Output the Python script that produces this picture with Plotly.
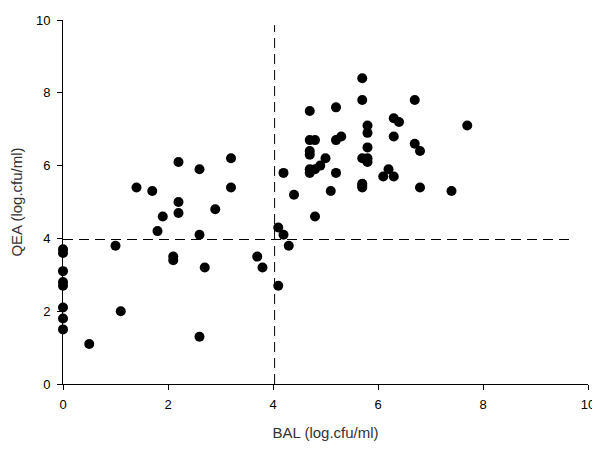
import plotly.graph_objects as go

# Data
bal = [0, 0, 0, 0, 0, 0, 0, 0,
       0.5, 1.0, 1.1, 1.4, 1.7, 1.8, 1.9, 2.1, 2.1, 2.2, 2.2, 2.2,
       2.6, 2.6, 2.6, 2.7, 2.9, 3.2, 3.2, 3.7, 3.8,
       4.1, 4.1, 4.2, 4.2, 4.3, 4.4,
       4.7, 4.7, 4.8, 4.7, 4.7, 4.7, 4.7, 4.8, 4.8, 4.9, 5.0,
       5.1, 5.2, 5.2, 5.3, 5.2,
       5.7, 5.7, 5.8, 5.8, 5.8, 5.7, 5.8, 5.8, 5.7, 5.7, 5.7,
       6.1, 6.2, 6.3, 6.3, 6.4, 6.3, 6.7, 6.7, 6.8, 6.8, 7.4, 7.7]
qea = [3.7, 3.6, 3.1, 2.8, 2.7, 2.1, 1.8, 1.5,
       1.1, 3.8, 2.0, 5.4, 5.3, 4.2, 4.6, 3.5, 3.4, 6.1, 5.0, 4.7,
       5.9, 4.1, 1.3, 3.2, 4.8, 6.2, 5.4, 3.5, 3.2,
       4.3, 2.7, 4.1, 5.8, 3.8, 5.2,
       7.5, 6.7, 6.7, 6.4, 6.3, 5.9, 5.8, 4.6, 5.9, 6.0, 6.2,
       5.3, 7.6, 6.7, 6.8, 5.8,
       8.4, 7.8, 7.1, 6.9, 6.5, 6.2, 6.2, 6.1, 5.5, 5.45, 5.4,
       5.7, 5.9, 5.7, 7.3, 7.2, 6.8, 7.8, 6.6, 6.4, 5.4, 5.3, 7.1]

ticks = [0, 2, 4, 6, 8, 10]
bal_cutoff = 4.03
qea_cutoff = 3.97
vline_top = 9.86
hline_right = 9.73

fig = go.Figure()

fig.add_trace(go.Scatter(
    x=[bal_cutoff, bal_cutoff], y=[0, vline_top], mode="lines",
    line=dict(color="black", width=1, dash="10px,6px"),
    showlegend=False, hoverinfo="skip"))
fig.add_trace(go.Scatter(
    x=[0, hline_right], y=[qea_cutoff, qea_cutoff], mode="lines",
    line=dict(color="black", width=1, dash="10px,6px"),
    showlegend=False, hoverinfo="skip"))

fig.add_trace(go.Scatter(
    x=bal, y=qea, mode="markers",
    marker=dict(color="black", size=10, symbol="circle"),
    cliponaxis=False, showlegend=False))

axis_common = dict(
    range=[0, 10], tickvals=ticks, showgrid=False, zeroline=False,
    showline=True, linecolor="black", linewidth=1,
    ticks="outside", ticklen=5, tickcolor="black", tickwidth=1,
    tickfont=dict(family="Liberation Sans, Arial", size=13, color="black"),
)

fig.update_layout(
    width=600, height=453,
    margin=dict(l=55, r=20, t=12, b=77, autoexpand=False),
    paper_bgcolor="white", plot_bgcolor="white",
    xaxis=dict(**axis_common, ticklabelstandoff=3,
               title=dict(text="BAL (log.cfu/ml)",
                          font=dict(family="Liberation Sans, Arial", size=15, color="#333333"),
                          standoff=16)),
    yaxis=dict(**axis_common, ticklabelstandoff=4,
               title=dict(text="QEA (log.cfu/ml)",
                          font=dict(family="Liberation Sans, Arial", size=15, color="#333333"),
                          standoff=19)),
)

fig.write_html("out.html")
